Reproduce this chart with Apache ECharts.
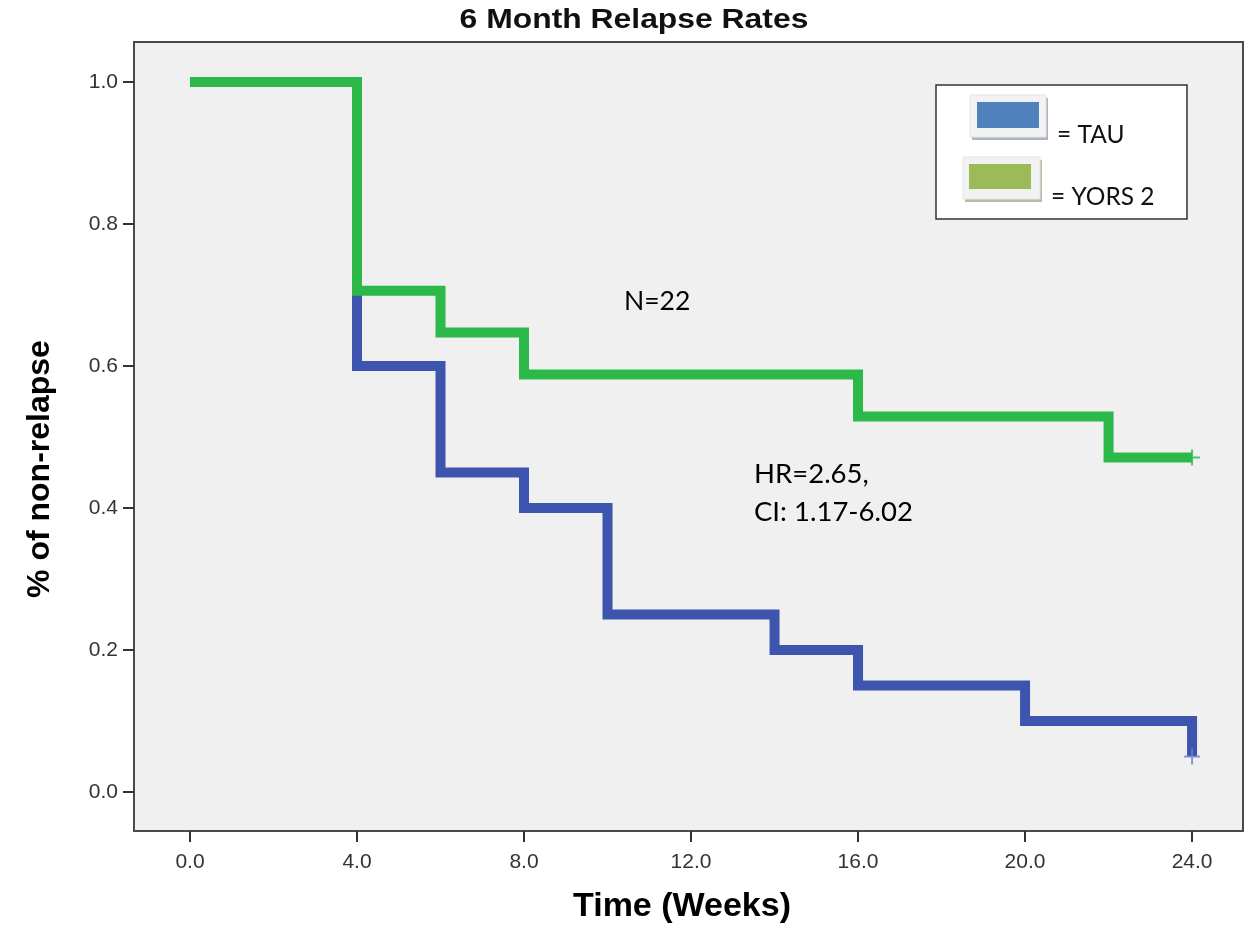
<!DOCTYPE html>
<html>
<head>
<meta charset="utf-8">
<script src="https://cdn.jsdelivr.net/npm/echarts@6/dist/echarts.min.js"></script>
<style>
html,body{margin:0;padding:0;background:#fff;}
#chart{width:1245px;height:926px;}
</style>
</head>
<body>
<div id="chart"></div>
<script>
// ---- data ----
const weeksTAU = [0, 4, 6, 8, 10, 14, 16, 20, 24];
const survTAU  = [1.0, 0.60, 0.45, 0.40, 0.25, 0.20, 0.15, 0.10, 0.05];
const weeksYORS = [0, 4, 6, 8, 16, 22, 24];
const survYORS  = [1.0, 0.706, 0.647, 0.588, 0.529, 0.471, 0.471];
const censorTAU = [[24, 0.05]];
const censorYORS = [[24, 0.471]];
const xTicks = [0, 4, 8, 12, 16, 20, 24];
const yTicks = [0, 0.2, 0.4, 0.6, 0.8, 1.0];
const titleText = '6 Month Relapse Rates';
const xTitle = 'Time (Weeks)';
const yTitle = '% of non-relapse';
const seriesNames = ['= TAU', '= YORS 2'];
const notes = ['N=22', 'HR=2.65,', 'CI: 1.17-6.02'];

const BLUE = '#3d55ae';
const GREEN = '#2db84a';
const plusPath = 'path://M7,0 H9 V7 H16 V9 H9 V16 H7 V9 H0 V7 H7 Z';

const chart = echarts.init(document.getElementById('chart'), null, {renderer: 'canvas'});

function zip(a, b) { return a.map((v, i) => [v, b[i]]); }

const option = {
  animation: false,
  backgroundColor: '#ffffff',
  grid: {
    left: 134, top: 42, right: 2, bottom: 95,
    show: true, backgroundColor: '#f0f0f0', borderColor: '#4a4a4a', borderWidth: 2
  },
  xAxis: {
    type: 'value', min: -1.341, max: 25.22,
    splitLine: {show: false},
    axisLine: {show: true, onZero: false, lineStyle: {color: '#4a4a4a', width: 2}},
    axisTick: {show: true, length: 11, customValues: xTicks, lineStyle: {color: '#333', width: 2}},
    axisLabel: {customValues: xTicks, margin: 21, color: '#333', fontFamily: 'Liberation Sans', fontSize: 21,
      formatter: v => Number(v).toFixed(1)}
  },
  yAxis: {
    type: 'value', min: -0.0549, max: 1.0563,
    splitLine: {show: false},
    axisLine: {show: true, onZero: false, lineStyle: {color: '#4a4a4a', width: 2}},
    axisTick: {show: true, length: 11, customValues: yTicks, lineStyle: {color: '#333', width: 2}},
    axisLabel: {customValues: yTicks, margin: 16, color: '#333', fontFamily: 'Liberation Sans', fontSize: 21,
      formatter: v => Number(v).toFixed(1)}
  },
  series: [
    {
      name: 'TAU', type: 'line', step: 'end', data: zip(weeksTAU, survTAU),
      showSymbol: false, symbol: 'none', z: 2,
      lineStyle: {color: BLUE, width: 10, cap: 'butt', join: 'miter'}
    },
    {
      name: 'YORS 2', type: 'line', step: 'end', data: zip(weeksYORS, survYORS),
      showSymbol: false, symbol: 'none', z: 3,
      lineStyle: {color: GREEN, width: 10, cap: 'butt', join: 'miter'}
    },
    {
      type: 'scatter', data: censorTAU, symbol: plusPath, symbolSize: 16, z: 4,
      itemStyle: {color: '#6f83c8'}
    },
    {
      type: 'scatter', data: censorYORS, symbol: plusPath, symbolSize: 16, z: 5,
      itemStyle: {color: GREEN}
    }
  ],
  graphic: [
    // title
    {type: 'text', x: 634, y: 21, scaleX: 1.18, z: 10,
      style: {text: titleText, fontFamily: 'Liberation Sans', fontWeight: 'bold', fontSize: 27, fill: '#111',
        textAlign: 'center', textVerticalAlign: 'middle'}},
    // axis titles
    {type: 'text', x: 682, y: 907, z: 10,
      style: {text: xTitle, fontFamily: 'Liberation Sans', fontWeight: 'bold', fontSize: 34, fill: '#000',
        textAlign: 'center', textVerticalAlign: 'middle'}},
    {type: 'text', x: 40, y: 469, rotation: Math.PI / 2, z: 10,
      style: {text: yTitle, fontFamily: 'Liberation Sans', fontWeight: 'bold', fontSize: 32, fill: '#000',
        textAlign: 'center', textVerticalAlign: 'middle'}},
    // annotations
    {type: 'text', x: 624, y: 301, z: 10,
      style: {text: notes[0], fontFamily: 'Lato', fontSize: 26.5, fill: '#000', textAlign: 'left', textVerticalAlign: 'middle'}},
    {type: 'text', x: 754, y: 474, z: 10,
      style: {text: notes[1], fontFamily: 'Lato', fontSize: 27.5, fill: '#000', textAlign: 'left', textVerticalAlign: 'middle'}},
    {type: 'text', x: 754, y: 512, z: 10,
      style: {text: notes[2], fontFamily: 'Lato', fontSize: 27.5, fill: '#000', textAlign: 'left', textVerticalAlign: 'middle'}},
    // legend box
    {type: 'rect', z: 10, shape: {x: 936, y: 85, width: 251, height: 134},
      style: {fill: '#ffffff', stroke: '#333', lineWidth: 1.5}},
    // TAU icon
    {type: 'rect', z: 11, shape: {x: 972, y: 98, width: 76, height: 42}, style: {fill: '#aab4c6'}},
    {type: 'rect', z: 12, shape: {x: 970, y: 95, width: 76, height: 42}, style: {fill: '#f2f2f2', stroke: '#e4e4e4', lineWidth: 1}},
    {type: 'rect', z: 13, shape: {x: 977, y: 102, width: 62, height: 26}, style: {fill: '#4f81bd'}},
    {type: 'text', x: 1057, y: 135, z: 13,
      style: {text: seriesNames[0], fontFamily: 'Lato', fontSize: 24.5, fill: '#111', textAlign: 'left', textVerticalAlign: 'middle'}},
    // YORS icon
    {type: 'rect', z: 11, shape: {x: 965, y: 160, width: 77, height: 42}, style: {fill: '#b3bea6'}},
    {type: 'rect', z: 12, shape: {x: 963, y: 157, width: 77, height: 42}, style: {fill: '#f2f2f2', stroke: '#e4e4e4', lineWidth: 1}},
    {type: 'rect', z: 13, shape: {x: 969, y: 164, width: 62, height: 25}, style: {fill: '#9bbb59'}},
    {type: 'text', x: 1051, y: 197, z: 13,
      style: {text: seriesNames[1], fontFamily: 'Lato', fontSize: 24.5, fill: '#111', textAlign: 'left', textVerticalAlign: 'middle'}}
  ]
};
chart.setOption(option);
</script>
</body>
</html>
